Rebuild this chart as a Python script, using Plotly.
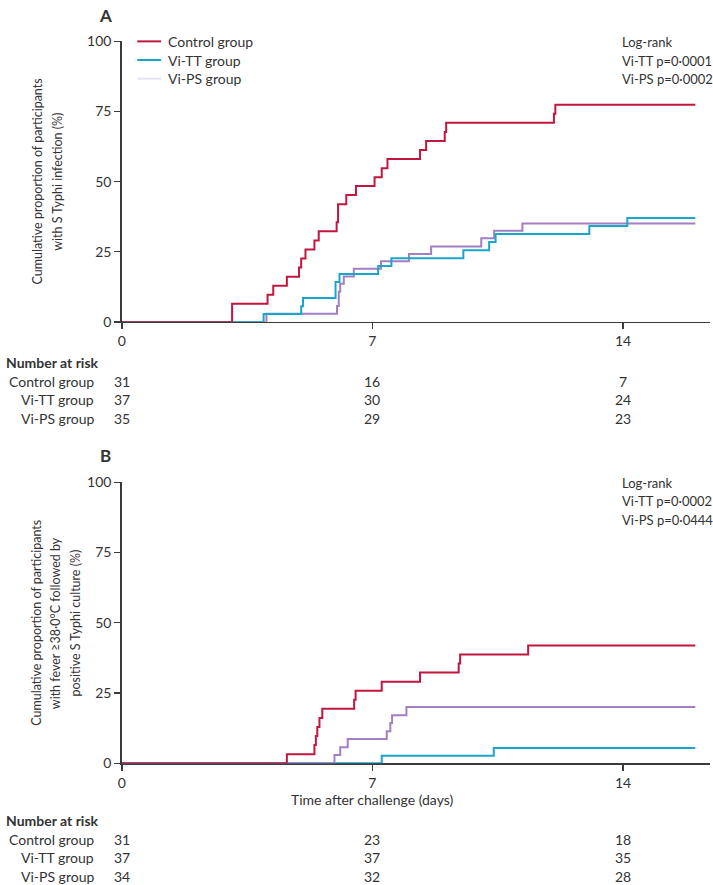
import plotly.graph_objects as go

# ---------------- data ----------------
groups = ["Control group", "Vi-TT group", "Vi-PS group"]
tick_days = [0, 7, 14]

# Panel A: S Typhi infection (cumulative %, Kaplan-Meier steps)
a_control_t = [0, 3.08, 4.07, 4.23, 4.61, 4.95, 5.01, 5.13, 5.38, 5.50, 6.00, 6.04, 6.27, 6.54, 7.06, 7.26, 7.42, 8.33, 8.50, 9.02, 9.06, 12.07, 12.11, 16.02]
a_control_v = [0, 6.5, 9.7, 12.9, 16.1, 19.4, 22.6, 25.8, 29.0, 32.3, 35.5, 41.9, 45.2, 48.4, 51.6, 54.8, 58.1, 61.3, 64.5, 67.7, 71.0, 74.2, 77.4, 77.4]
a_vitt_t = [0, 3.96, 5.01, 5.06, 5.97, 6.08, 7.16, 7.53, 9.54, 10.26, 10.44, 13.06, 14.12, 16.02]
a_vitt_v = [0, 2.8, 5.6, 8.5, 14.2, 17.1, 19.9, 22.7, 25.5, 28.5, 31.3, 34.2, 37.0, 37.0]
a_vips_t = [0, 4.04, 6.01, 6.06, 6.10, 6.20, 6.48, 7.24, 8.02, 8.64, 10.04, 10.40, 11.19, 16.02]
a_vips_v = [0, 2.9, 5.7, 10.7, 13.6, 16.2, 18.9, 21.6, 24.2, 26.9, 29.8, 32.5, 35.1, 35.1]
a_at_risk = {"Control group": [31, 16, 7], "Vi-TT group": [37, 30, 24], "Vi-PS group": [35, 29, 23]}
a_logrank = ["Log-rank", "Vi-TT p=0·0001", "Vi-PS p=0·0002"]
a_ytitle = ["Cumulative proportion of participants", "with S Typhi infection (%)"]

# Panel B: fever >=38.0C followed by positive S Typhi culture
b_control_t = [0, 4.61, 5.38, 5.42, 5.46, 5.52, 5.60, 6.49, 6.53, 7.26, 8.33, 9.41, 9.45, 11.35, 16.02]
b_control_v = [0, 3.2, 6.5, 9.7, 12.9, 16.1, 19.4, 22.6, 25.8, 29.0, 32.3, 35.5, 38.7, 41.9, 41.9]
b_vitt_t = [0, 7.26, 10.39, 16.02]
b_vitt_v = [0, 2.7, 5.4, 5.4]
b_vips_t = [0, 5.94, 6.10, 6.31, 7.40, 7.50, 7.55, 7.95, 16.02]
b_vips_v = [0, 2.9, 5.7, 8.6, 11.4, 14.3, 17.1, 20.0, 20.0]
b_at_risk = {"Control group": [31, 23, 18], "Vi-TT group": [37, 37, 35], "Vi-PS group": [34, 32, 28]}
b_logrank = ["Log-rank", "Vi-TT p=0·0002", "Vi-PS p=0·0444"]
b_ytitle = ["Cumulative proportion of participants", "with fever ≥38·0°C followed by", "positive S Typhi culture (%)"]
x_title = "Time after challenge (days)"

# ---------------- style ----------------
W, H = 713, 885
FONT = "Lato, 'Open Sans', sans-serif"
FS = 14
TXT = "#333333"
AX = "#3a3a3a"
colors = {"Control group": "#c2163f", "Vi-TT group": "#1aa6c9", "Vi-PS group": "#a27fc2"}
legend_colors = {"Control group": "#c2163f", "Vi-TT group": "#1aa6c9", "Vi-PS group": "#e4e3f1"}

X0, X1 = 118.5, 710.0
PX_PER_DAY = 36.0
XMAX = (X1 - X0) / PX_PER_DAY


def px(x):
    return x / W


def py(y):
    return 1 - y / H


fig = go.Figure()

# draw order (bottom -> top) follows the reference's overlap at the baseline
panels = [
    dict(xa="x", ya="y",
         series=[("Vi-PS group", a_vips_t, a_vips_v), ("Vi-TT group", a_vitt_t, a_vitt_v), ("Control group", a_control_t, a_control_v)]),
    dict(xa="x2", ya="y2",
         series=[("Vi-TT group", b_vitt_t, b_vitt_v), ("Vi-PS group", b_vips_t, b_vips_v), ("Control group", b_control_t, b_control_v)]),
]

for p in panels:
    for name, t, v in p["series"]:
        fig.add_trace(go.Scatter(x=t, y=v, mode="lines", line=dict(color=colors[name], width=2, shape="hv"),
                                 xaxis=p["xa"], yaxis=p["ya"], showlegend=False, name=name, cliponaxis=False))

axis_common = dict(showgrid=False, zeroline=False, showline=True, linecolor=AX, linewidth=1.6,
                   ticks="outside", ticklen=6, tickwidth=1.4, tickcolor=AX, layer="below traces",
                   tickfont=dict(family=FONT, size=FS, color=TXT), fixedrange=True)

fig.update_layout(
    width=W, height=H, autosize=False,
    margin=dict(l=0, r=0, t=0, b=0),
    paper_bgcolor="white", plot_bgcolor="white",
    font=dict(family=FONT, size=FS, color=TXT),
    xaxis=dict(domain=[px(X0), px(X1)], range=[0, XMAX], anchor="y", tickvals=tick_days, **axis_common),
    yaxis=dict(domain=[py(319), py(33)], range=[0, 100], anchor="x", tickvals=[0, 25, 50, 75, 100], **axis_common),
    xaxis2=dict(domain=[px(X0), px(X1)], range=[0, XMAX], anchor="y2", tickvals=tick_days, **axis_common),
    yaxis2=dict(domain=[py(769), py(482.5)], range=[0, 100], anchor="x2", tickvals=[0, 25, 50, 75, 100], **axis_common),
)

ann = []
shapes = []


def text(x, y, s, size=FS, xanchor="left", bold=False, angle=0, yanchor="middle"):
    ann.append(dict(x=px(x), y=py(y), xref="paper", yref="paper", text=f"<b>{s}</b>" if bold else s,
                    showarrow=False, xanchor=xanchor, yanchor=yanchor, textangle=angle,
                    font=dict(family=FONT, size=size, color=TXT)))


# panel letters
text(102, 7, "A", size=17, xanchor="center", bold=True)
text(102, 455, "B", size=17, xanchor="center", bold=True)

# y-axis titles (one annotation per line for exact spacing)
for i, line in enumerate(a_ytitle):
    text(34 + i * 19.5, 176, line, size=12.5, angle=-90, xanchor="center")
for i, line in enumerate(b_ytitle):
    text(33 + i * 19.5, 626, line, size=12.5, angle=-90, xanchor="center")

# legend (panel A)
for i, g in enumerate(groups):
    yy = 33 + i * 19
    shapes.append(dict(type="line", xref="paper", yref="paper", x0=px(134), x1=px(158), y0=py(yy), y1=py(yy),
                       line=dict(color=legend_colors[g], width=2)))
    text(163, yy, g)

# log-rank
for i, s in enumerate(a_logrank):
    text(619, 34 + i * 18.8, s, size=13)
for i, s in enumerate(b_logrank):
    text(619, 483 + i * 18.8, s, size=13)


def day_px(d):
    return X0 + d * PX_PER_DAY


# x-axis title panel B
text(day_px(7), 806, x_title, xanchor="center")


# number at risk tables
def risk_table(top, table):
    text(0, top, "Number at risk", bold=True)
    for i, g in enumerate(groups):
        yy = top + 19.3 * (i + 1)
        text(93, yy, g, xanchor="right")
        for d, n in zip(tick_days, table[g]):
            text(day_px(d), yy, str(n), xanchor="center")


risk_table(360, a_at_risk)
risk_table(827, b_at_risk)

fig.update_layout(annotations=ann, shapes=shapes)
fig.write_html("out.html", config={"displayModeBar": False, "staticPlot": True},
               post_script="document.body.style.margin='0';document.body.style.padding='0';document.body.style.overflow='hidden';")
